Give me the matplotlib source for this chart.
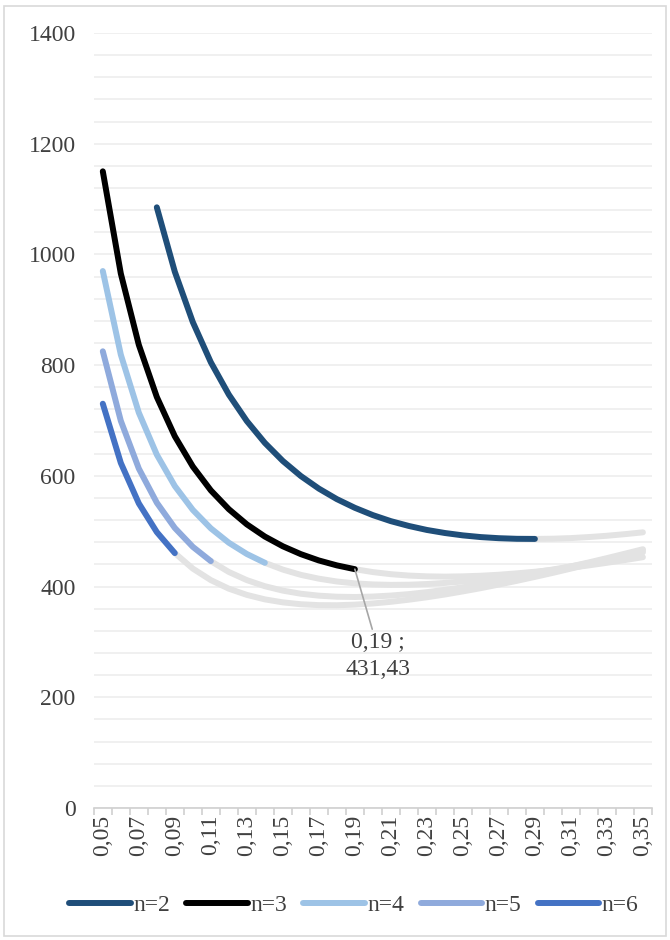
import matplotlib.pyplot as plt
from matplotlib.patches import Rectangle

# categorias del eje x (0,05 ... 0,35)
x_vals = [0.05, 0.06, 0.07, 0.08, 0.09, 0.10, 0.11, 0.12, 0.13, 0.14, 0.15,
          0.16, 0.17, 0.18, 0.19, 0.20, 0.21, 0.22, 0.23, 0.24, 0.25, 0.26,
          0.27, 0.28, 0.29, 0.30, 0.31, 0.32, 0.33, 0.34, 0.35]

# n=2 empieza en 0,08
n2 = [None, None, None, 1085.1, 968.7, 877.7, 805.2, 746.8, 699.0, 659.6, 626.9,
      599.7, 577.0, 558.0, 542.3, 529.1, 518.2, 509.5, 502.3, 496.8, 492.5, 489.4,
      487.4, 486.3, 486.1, 486.5, 487.6, 489.5, 491.8, 494.7, 498.0]
n3 = [1150.1, 965.5, 836.7, 742.5, 671.5, 616.8, 573.8, 539.8, 512.4, 490.4, 472.8,
      458.6, 447.2, 438.3, 431.43, 426.2, 422.4, 419.9, 418.5, 418.0, 418.5, 419.6,
      421.4, 423.9, 426.8, 430.2, 434.1, 438.3, 443.0, 447.9, 453.1]
n4 = [970.0, 819.0, 714.2, 638.3, 581.6, 538.5, 505.2, 479.2, 458.9, 443.0, 430.7,
      421.2, 414.3, 409.2, 405.8, 403.9, 403.1, 403.4, 404.6, 406.6, 409.3, 412.6,
      416.5, 420.9, 425.7, 430.9, 436.5, 442.4, 448.6, 455.1, 461.8]
n5 = [825.0, 699.5, 613.2, 551.5, 505.9, 471.8, 446.0, 426.4, 411.7, 400.7, 392.7,
      387.1, 383.6, 381.7, 381.2, 382.0, 383.8, 386.4, 389.9, 394.1, 398.8, 404.0,
      409.7, 415.9, 422.3, 429.2, 436.4, 443.7, 451.4, 459.4, 467.5]
n6 = [730.3, 623.4, 550.3, 498.4, 460.5, 432.5, 411.7, 396.2, 385.0, 376.9, 371.5,
      368.1, 366.5, 366.3, 367.4, 369.5, 372.5, 376.3, 380.7, 385.7, 391.3, 397.2,
      403.7, 410.4, 417.5, 424.8, 432.5, 440.3, 448.5, 456.7, 465.2]

series = [n2, n3, n4, n5, n6]
etiquetas = ['n=2', 'n=3', 'n=4', 'n=5', 'n=6']
colores = ['#1F4E79', '#000000', '#9DC3E6', '#8FAADC', '#4472C4']
# indice de la ultima categoria coloreada de cada serie
fin_color = [24, 14, 9, 6, 4]

plt.rcParams['font.family'] = ['Liberation Serif', 'DejaVu Serif']
fs = 17

fig = plt.figure(figsize=(6.7, 9.4), dpi=100)
ax = fig.add_axes([0.140, 0.1404, 0.833, 0.8245])

idx = list(range(len(x_vals)))
lw = 4.3

# tramos grises primero
for s, fin in zip(series, fin_color):
    xs = [i for i in idx[fin:] if s[i] is not None]
    ys = [s[i] for i in xs]
    ax.plot(xs, ys, color='#E3E3E3', lw=lw, solid_capstyle='round', zorder=2)

for s, fin, c, lab in zip(series, fin_color, colores, etiquetas):
    xs = [i for i in idx[:fin + 1] if s[i] is not None]
    ys = [s[i] for i in xs]
    ax.plot(xs, ys, color=c, lw=lw, solid_capstyle='round', label=lab, zorder=3)

# etiqueta del punto 0,19
ax.annotate('0,19 ;\n431,43', xy=(14, 431.43), xytext=(15.3, 318),
            ha='center', va='top', fontsize=fs, color='#404040',
            multialignment='center', linespacing=1.4,
            arrowprops=dict(arrowstyle='-', color='#A6A6A6', lw=1.2,
                            shrinkA=0, shrinkB=0, relpos=(0.42, 1.0)))

ax.set_xlim(-0.5, len(x_vals) - 0.5)
ax.set_ylim(0, 1400)

ax.set_yticks(range(0, 1401, 200))
ax.set_yticks(range(0, 1401, 40), minor=True)
ax.grid(axis='y', which='both', color='#EFEFEF', lw=1.3, zorder=0)
ax.tick_params(axis='y', which='both', length=0, labelsize=fs,
               labelcolor='#404040', pad=13)

ax.set_xticks(idx[::2])
ax.set_xticklabels([('%.2f' % v).replace('.', ',') for v in x_vals[::2]],
                   rotation=90)
ax.set_xticks([i - 0.5 for i in range(len(x_vals) + 1)], minor=True)
ax.tick_params(axis='x', which='major', length=0, labelsize=fs,
               labelcolor='#404040', pad=5)
ax.tick_params(axis='x', which='minor', length=5, color='#D0D0D0', width=1.2)

for lado in ['top', 'right', 'left']:
    ax.spines[lado].set_visible(False)
ax.spines['bottom'].set_color('#D0D0D0')
ax.spines['bottom'].set_linewidth(1.2)

leg = fig.legend(loc='center', bbox_to_anchor=(0.528, 0.037), ncol=5,
                 frameon=False, fontsize=fs, handlelength=2.6,
                 handletextpad=0.1, columnspacing=0.7)
for t in leg.get_texts():
    t.set_color('#404040')

# marco exterior
fig.patches.append(Rectangle((0.006, 0.004), 0.988, 0.99, transform=fig.transFigure,
                             fill=False, edgecolor='#D9D9D9', lw=1.2))

fig.savefig('out.png', dpi=100)
